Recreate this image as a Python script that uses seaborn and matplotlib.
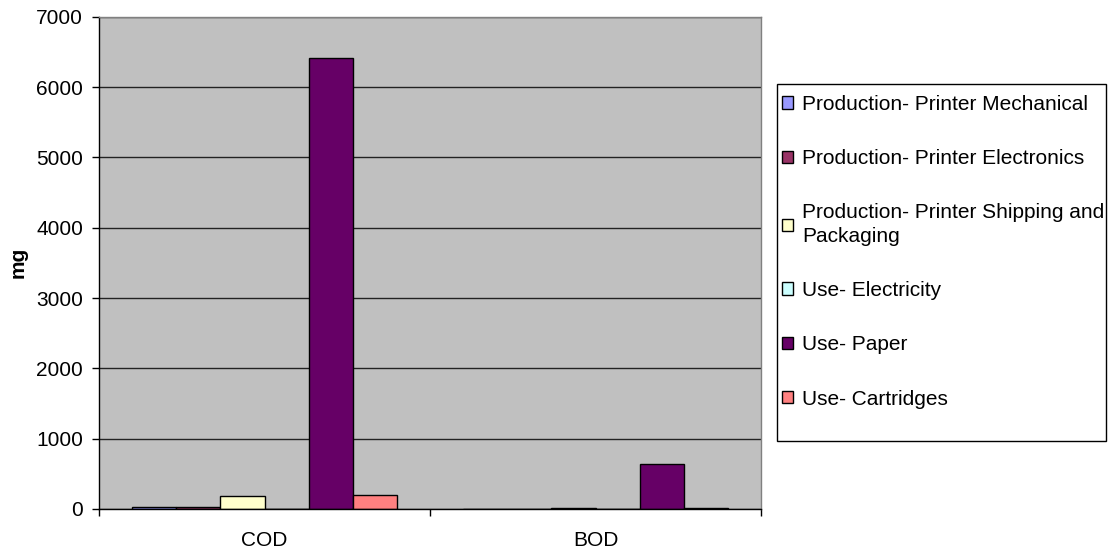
import matplotlib
matplotlib.use("Agg")
import matplotlib.pyplot as plt
import matplotlib.patches as mpatches
import seaborn as sns
import pandas as pd

# Emissions to water per category (mg)
categories = ["COD", "BOD"]
series = [
    "Production- Printer Mechanical",
    "Production- Printer Electronics",
    "Production- Printer Shipping and\nPackaging",
    "Use- Electricity",
    "Use- Paper",
    "Use- Cartridges",
]
cod_values = [28, 22, 180, 0, 6410, 200]
bod_values = [2, 2, 15, 0, 640, 15]
colors = ["#9999FF", "#993366", "#FFFFCC", "#CCFFFF", "#660066", "#FF8080"]

rows = []
for s, c_val, b_val in zip(series, cod_values, bod_values):
    rows.append({"category": "COD", "series": s, "value": c_val})
    rows.append({"category": "BOD", "series": s, "value": b_val})
df = pd.DataFrame(rows)

sns.set_theme(style="white")
plt.rcParams["font.family"] = ["Liberation Sans", "DejaVu Sans"]
plt.rcParams["text.color"] = "black"
plt.rcParams["axes.labelcolor"] = "black"
plt.rcParams["xtick.color"] = "black"
plt.rcParams["ytick.color"] = "black"
fs = 15

fig = plt.figure(figsize=(11.11, 5.55), dpi=100)
ax = fig.add_axes([99 / 1111, 1 - 509 / 555, (761 - 99) / 1111, (509 - 16.7) / 555])
ax.set_facecolor("#C0C0C0")

sns.barplot(
    data=df, x="category", y="value", hue="series",
    order=categories, hue_order=series, palette=colors,
    width=0.8, edgecolor="black", linewidth=1.0, saturation=1,
    legend=True, ax=ax, errorbar=None,
)

ax.set_xlim(-0.5, 1.5)
ax.set_ylim(0, 7000)
ax.set_yticks(range(0, 7001, 1000))
ax.yaxis.grid(True, color="#222222", linewidth=1.0)
ax.set_axisbelow(True)

ax.set_xticks([0, 1])
ax.set_xticklabels(categories, fontsize=fs)
ax.set_xticks([-0.5, 0.5, 1.5], minor=True)
ax.tick_params(axis="x", which="major", bottom=True, length=0, pad=15.5)
ax.tick_params(axis="x", which="minor", bottom=True, length=5, width=1,
               color="black", direction="out")
ax.tick_params(axis="y", left=True, length=5, width=1, color="black",
               direction="out", labelsize=fs, pad=6.5)
ax.set_xlabel("")
ax.set_ylabel("mg", fontsize=fs, fontweight="bold", labelpad=6)

for side in ["top", "right"]:
    ax.spines[side].set_color("#808080")
    ax.spines[side].set_linewidth(1.0)
for side in ["left", "bottom"]:
    ax.spines[side].set_color("black")
    ax.spines[side].set_linewidth(1.0)

# Legend outside the plot area, with its own frame
handles, labels = ax.get_legend_handles_labels()
ax.get_legend().remove()
for h in handles:
    h.set_edgecolor("black")
    h.set_linewidth(1.0)
leg = fig.legend(
    handles, labels, loc="upper left",
    bbox_to_anchor=(782 / 1111, 1 - 95 / 555),
    frameon=False, fontsize=fs,
    handlelength=0.55, handleheight=0.55, handletextpad=0.4,
    labelspacing=1.69, borderpad=0.0, borderaxespad=0.0,
)
for t in leg.get_texts():
    t.set_linespacing(1.3)
frame = mpatches.Rectangle(
    (777 / 1111, 1 - 441 / 555), (1106 - 777) / 1111, (441 - 84) / 555,
    transform=fig.transFigure, facecolor="white", edgecolor="black",
    linewidth=1.0, zorder=0,
)
fig.patches.append(frame)

fig.savefig("out.png", dpi=100, facecolor="white")
